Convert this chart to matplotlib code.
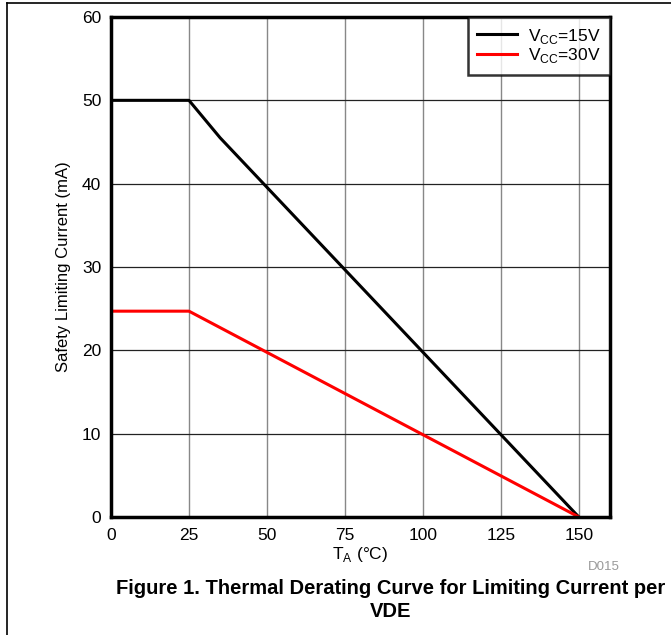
import matplotlib
matplotlib.use("Agg")
import matplotlib.pyplot as plt
from matplotlib.lines import Line2D

plt.rcParams['font.family'] = ['Liberation Sans', 'DejaVu Sans']

# данные кривых снижения номинала
t_15v = [0, 25, 35, 150]
i_15v = [50, 50, 45.5, 0]
t_30v = [0, 25, 150]
i_30v = [24.7, 24.7, 0]
x_ticks = [0, 25, 50, 75, 100, 125, 150]
y_ticks = [0, 10, 20, 30, 40, 50, 60]

fig = plt.figure(figsize=(6.71, 6.35), dpi=100)
ax = fig.add_axes([111 / 671, 1 - 517 / 635, 499 / 671, 500 / 635])

ax.plot(t_15v, i_15v, color='black', lw=2.2, label='V$_{\\mathregular{CC}}$=15V', zorder=3)
ax.plot(t_30v, i_30v, color='#ff0000', lw=2.2, label='V$_{\\mathregular{CC}}$=30V', zorder=3)

ax.set_xlim(0, 160)
ax.set_ylim(0, 60)
ax.set_xticks(x_ticks)
ax.set_yticks(y_ticks)
ax.tick_params(length=0, labelsize=12.5, pad=8)
ax.tick_params(axis='y', pad=7)

# сетка: вертикальные серые, горизонтальные тёмные
for x in x_ticks[1:]:
    ax.axvline(x, color='#888888', lw=1.0, zorder=1)
for y in y_ticks[1:]:
    ax.axhline(y, color='#222222', lw=0.9, zorder=1)

for s in ax.spines.values():
    s.set_linewidth(2.5)
    s.set_zorder(4)

ax.set_xlabel('T$_{\\mathregular{A}}$ (°C)', fontsize=12.5, labelpad=1)
ax.set_ylabel('Safety Limiting Current (mA)', fontsize=12, labelpad=8)

leg = ax.legend(loc='upper right', fontsize=12.5, frameon=True, fancybox=False,
                borderaxespad=0, handlelength=2.3, labelspacing=0.05,
                borderpad=0.55, handletextpad=0.6)
leg.get_frame().set_edgecolor('black')
leg.get_frame().set_linewidth(1.8)
leg.set_zorder(5)

fig.text(604 / 671, 1 - 567 / 635, 'D015', color='#999999', fontsize=9.5,
         ha='center', va='center')
fig.text(391 / 671, 1 - 600 / 635,
         'Figure 1. Thermal Derating Curve for Limiting Current per\nVDE',
         fontsize=14.5, fontweight='bold', ha='center', va='center',
         linespacing=1.3)

# внешняя рамка
fig.add_artist(Line2D([7 / 671, 1], [1 - 3 / 635, 1 - 3 / 635],
                      transform=fig.transFigure, color='black', lw=1.2))
fig.add_artist(Line2D([7 / 671, 7 / 671], [0, 1 - 3 / 635],
                      transform=fig.transFigure, color='black', lw=1.2))

plt.savefig('out.png', dpi=100)
